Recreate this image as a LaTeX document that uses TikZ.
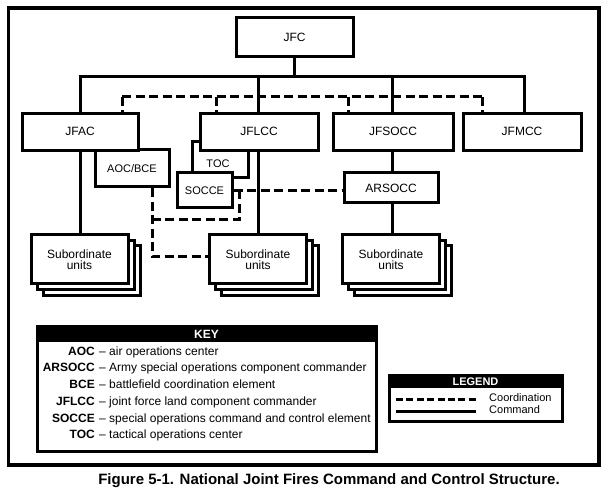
\documentclass[tikz,border=0pt]{standalone}
\usepackage{fontspec}
\setmainfont{Liberation Sans}
\usetikzlibrary{backgrounds}
\newcommand\lblfont{\fontsize{12}{11}\selectfont}
\newcommand\smlfont{\fontsize{11}{11}\selectfont}
\newcommand\keyfont{\fontsize{12}{14}\selectfont}
\newcommand\legfont{\fontsize{11}{13}\selectfont}
\newcommand\capfont{\bfseries\fontsize{15}{17}\selectfont}
\begin{document}
\begin{tikzpicture}[x=1pt,y=-1pt,line join=miter,
  box/.style={draw,line width=3pt,fill=white,inner sep=0pt,font=\lblfont,align=center},
  smallbox/.style={box,font=\smlfont},
  cmd/.style={line width=3pt},
  crd/.style={line width=3pt,dash pattern=on 9pt off 4.5pt},
  legcrd/.style={line width=3pt,dash pattern=on 7pt off 3.4pt},
  abbr/.style={anchor=mid east,inner sep=0pt,font=\keyfont\bfseries},
  defn/.style={anchor=mid west,inner sep=0pt,font=\keyfont},
  head/.style={fill=black,text=white,inner sep=0pt,font=\bfseries},
  legtext/.style={anchor=mid west,inner sep=0pt,font=\legfont}]
\useasboundingbox (0,0) rectangle (608,497);

% outer frame
\draw[line width=3.3pt] (8.5,8) rectangle (599,465);

% top level
\node[box,minimum width=117pt,minimum height=39pt] (jfc) at (294.5,37.5) {JFC};
\node[smallbox,minimum width=74pt,minimum height=37pt] (aocbce) at (132,168.5) {AOC/BCE};
\node[box,minimum width=116pt,minimum height=37.5pt] (jfac) at (80,131.8) {JFAC};
\node[smallbox,minimum width=56pt,minimum height=36pt] (toc) at (220,160) {};
\node[box,minimum width=118pt,minimum height=37.5pt] (jflcc) at (259,131.8) {JFLCC};
\node[inner sep=0pt,font=\smlfont] (toclbl) at (218,163.5) {TOC};
\node[smallbox,minimum width=55pt,minimum height=35pt] (socce) at (204.5,190.5) {SOCCE};
\node[box,minimum width=120pt,minimum height=37.5pt] (jfsocc) at (393,131.8) {JFSOCC};
\node[box,minimum width=118pt,minimum height=37.5pt] (jfmcc) at (522,131.8) {JFMCC};
\node[box,minimum width=94pt,minimum height=30pt] (arsocc) at (391,188) {ARSOCC};

% subordinate unit stacks
\foreach \n/\cx in {subA/79.5,subB/258,subC/391}{
  \node[box,minimum width=97pt,minimum height=49pt] (\n3) at ({\cx+12},270.5) {};
  \node[box,minimum width=97pt,minimum height=49pt] (\n2) at ({\cx+6},265) {};
  \node[box,minimum width=97pt,minimum height=49pt] (\n) at (\cx,259.5) {Subordinate\\units};
}

% junction coordinates
\coordinate (hl) at (80,77);
\coordinate (hr) at (524,77);
\coordinate (vL) at (258,77);
\coordinate (vS) at (392,77);
\coordinate (dl) at (122,97);
\coordinate (dr) at (482,97);
\coordinate (d2) at (216,97);
\coordinate (d3) at (348,97);
\coordinate (s1) at (239,220);
\coordinate (a1) at (152,257);

\begin{pgfonlayer}{background}
  \fill[white] (0,0) rectangle (608,497);
  % command lines
  \draw[cmd] (jfc.south) -- (jfc.south |- hl);
  \draw[cmd] (jfac.north) -- (hl) -- (hr) -- (hr |- jfmcc.north);
  \draw[cmd] (vL) -- (vL |- jflcc.north);
  \draw[cmd] (vS) -- (vS |- jfsocc.north);
  \draw[cmd] (jfac.south) -- (jfac.south |- subA.north);
  \draw[cmd] (vL |- jflcc.south) -- (vL |- subB.north);
  \draw[cmd] (vS |- jfsocc.south) -- (vS |- arsocc.north);
  \draw[cmd] (vS |- arsocc.south) -- (vS |- subC.north);
  % coordination lines
  \draw[crd] (dl) -- (dr);
  \draw[crd] (dl) -- (dl |- jfac.north);
  \draw[crd] (d2) -- (d2 |- jflcc.north);
  \draw[crd] (d3) -- (d3 |- jfsocc.north);
  \draw[crd] (dr) -- (dr |- jfmcc.north);
  \draw[crd] (socce.east) -- (socce.east -| arsocc.west);
  \draw[crd] (s1 |- socce.east) -- (s1) -- (s1 -| a1);
  \draw[crd] (a1 |- aocbce.south) -- (a1) -- (a1 -| subB.west);
\end{pgfonlayer}

% key
\node[head,minimum width=339pt,minimum height=16pt,font=\keyfont\bfseries] (keyhead) at (206.5,334) {KEY};
\node[draw,line width=3pt,minimum width=339pt,minimum height=125pt,inner sep=0pt] (keybox) at (206.5,388.5) {};
\node[abbr] (k1a) at (95,352.7) {AOC};
\node[defn] (k1d) at (99,352.7) {– air operations center};
\node[abbr] (k2a) at (95,369.3) {ARSOCC};
\node[defn] (k2d) at (99,369.3) {– Army special operations component commander};
\node[abbr] (k3a) at (95,386.2) {BCE};
\node[defn] (k3d) at (99,386.2) {– battlefield coordination element};
\node[abbr] (k4a) at (95,402.8) {JFLCC};
\node[defn] (k4d) at (99,402.8) {– joint force land component commander};
\node[abbr] (k5a) at (95,419.5) {SOCCE};
\node[defn] (k5d) at (99,419.5) {– special operations command and control element};
\node[abbr] (k6a) at (95,436.3) {TOC};
\node[defn] (k6d) at (99,436.3) {– tactical operations center};

% legend
\node[head,minimum width=173pt,minimum height=13pt,font=\legfont\bfseries] (leghead) at (475.5,381.5) {LEGEND};
\node[draw,line width=3pt,minimum width=173pt,minimum height=46pt,inner sep=0pt] (legbox) at (475.5,398) {};
\coordinate (la) at (396,399);
\coordinate (lb) at (476,399);
\coordinate (lc) at (396,411);
\coordinate (ld) at (476,411);
\draw[legcrd] (la) -- (lb);
\draw[cmd] (lc) -- (ld);
\node[legtext] (legc) at (489,399) {Coordination};
\node[legtext] (legm) at (489,411) {Command};

% caption
\node[font=\capfont,inner sep=0pt] (caption) at (329,481) {Figure 5-1. National Joint Fires Command and Control Structure.};
\end{tikzpicture}
\end{document}
